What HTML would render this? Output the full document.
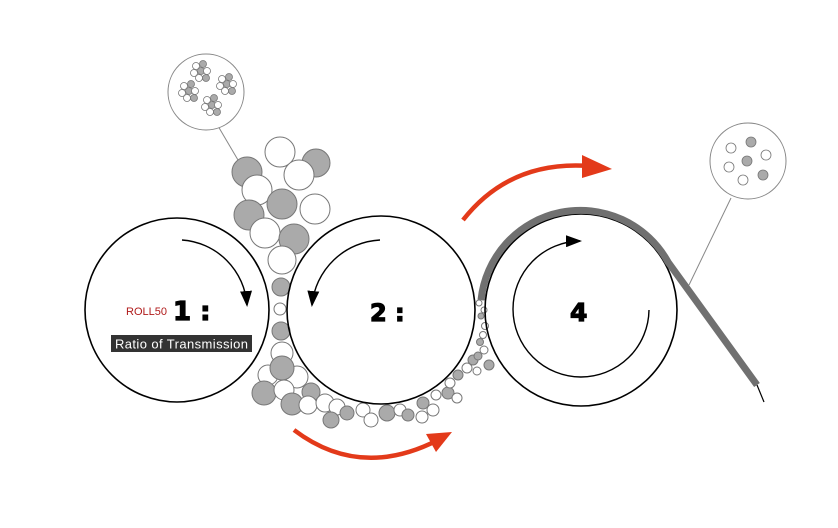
<!DOCTYPE html>
<html><head><meta charset="utf-8"><style>html,body{margin:0;padding:0;background:#fff}svg{display:block}</style></head>
<body>
<svg width="838" height="528" viewBox="0 0 838 528" xmlns="http://www.w3.org/2000/svg">
<defs>
<marker id="ah" markerWidth="16" markerHeight="12" refX="14" refY="6" orient="auto" markerUnits="userSpaceOnUse"><path d="M0,0 L16,6 L0,12 Z" fill="#000"/></marker>
</defs>
<line x1="218" y1="126" x2="238" y2="160" stroke="#888" stroke-width="1"/>
<line x1="731" y1="198" x2="689" y2="285" stroke="#888" stroke-width="1"/>
<g fill="#fff" stroke="none">
<circle cx="177" cy="310" r="92"/>
<circle cx="381" cy="310" r="94"/>
<circle cx="581" cy="310" r="96"/>
</g>
<g stroke="#777" stroke-width="1">
<circle cx="247" cy="172" r="15" fill="#aaa"/>
<circle cx="280" cy="152" r="15" fill="#fff"/>
<circle cx="316" cy="163" r="14" fill="#aaa"/>
<circle cx="299" cy="175" r="15" fill="#fff"/>
<circle cx="257" cy="190" r="15" fill="#fff"/>
<circle cx="282" cy="204" r="15" fill="#aaa"/>
<circle cx="315" cy="209" r="15" fill="#fff"/>
<circle cx="249" cy="215" r="15" fill="#aaa"/>
<circle cx="265" cy="233" r="15" fill="#fff"/>
<circle cx="294" cy="239" r="15" fill="#aaa"/>
<circle cx="282" cy="260" r="14" fill="#fff"/>
<circle cx="281" cy="287" r="9" fill="#aaa"/>
<circle cx="280" cy="309" r="6" fill="#fff"/>
<circle cx="281" cy="331" r="9" fill="#aaa"/>
<circle cx="282" cy="353" r="11" fill="#fff"/>
<circle cx="268" cy="375" r="10" fill="#fff"/>
<circle cx="297" cy="377" r="11" fill="#fff"/>
<circle cx="282" cy="368" r="12" fill="#aaa"/>
<circle cx="264" cy="393" r="12" fill="#aaa"/>
<circle cx="284" cy="390" r="10" fill="#fff"/>
<circle cx="311" cy="392" r="9" fill="#aaa"/>
<circle cx="292" cy="404" r="11" fill="#aaa"/>
<circle cx="308" cy="405" r="9" fill="#fff"/>
<circle cx="325" cy="403" r="9" fill="#fff"/>
<circle cx="337" cy="407" r="8" fill="#fff"/>
<circle cx="331" cy="420" r="8" fill="#aaa"/>
<circle cx="347" cy="413" r="7" fill="#aaa"/>
<circle cx="363" cy="410" r="7" fill="#fff"/>
<circle cx="371" cy="420" r="7" fill="#fff"/>
<circle cx="387" cy="413" r="8" fill="#aaa"/>
<circle cx="400" cy="410" r="6" fill="#fff"/>
<circle cx="408" cy="415" r="6" fill="#aaa"/>
<circle cx="422" cy="417" r="6" fill="#fff"/>
<circle cx="423" cy="403" r="6" fill="#aaa"/>
<circle cx="433" cy="410" r="6" fill="#fff"/>
<circle cx="436" cy="395" r="5" fill="#fff"/>
<circle cx="448" cy="393" r="6" fill="#aaa"/>
<circle cx="457" cy="398" r="5" fill="#fff"/>
<circle cx="450" cy="383" r="5" fill="#fff"/>
<circle cx="458" cy="375" r="5" fill="#aaa"/>
<circle cx="467" cy="368" r="5" fill="#fff"/>
<circle cx="473" cy="360" r="5" fill="#aaa"/>
<circle cx="489" cy="365" r="5" fill="#aaa"/>
<circle cx="477" cy="371" r="4" fill="#fff"/>
<circle cx="478" cy="356" r="4" fill="#aaa"/>
<circle cx="484" cy="350" r="4" fill="#fff"/>
<circle cx="480" cy="342" r="3.5" fill="#aaa"/>
<circle cx="483" cy="335" r="3.5" fill="#fff"/>
<circle cx="485" cy="326" r="3.5" fill="#fff"/>
<circle cx="481" cy="316" r="3" fill="#aaa"/>
<circle cx="484" cy="310" r="3" fill="#fff"/>
<circle cx="479" cy="303" r="3" fill="#fff"/>
<circle cx="483" cy="297" r="3" fill="#aaa"/>
</g>
<g fill="none" stroke="#000" stroke-width="1.6">
<circle cx="177" cy="310" r="92"/>
<circle cx="381" cy="310" r="94"/>
<circle cx="581" cy="310" r="96"/>
</g>
<path d="M481,300 A100,100 0 0 1 668,262 L757,385" fill="none" stroke="#707070" stroke-width="7"/>
<line x1="757" y1="385" x2="764" y2="402" stroke="#000" stroke-width="1.2"/>
<path d="M182,240 A70,70 0 0 1 247,305" fill="none" stroke="#000" stroke-width="1.4" marker-end="url(#ah)"/>
<path d="M380,240 A72,72 0 0 0 312,305" fill="none" stroke="#000" stroke-width="1.4" marker-end="url(#ah)"/>
<path d="M649,310 A68,68 0 1 1 580,241" fill="none" stroke="#000" stroke-width="1.4" marker-end="url(#ah)"/>
<path d="M463,220 Q510,160 590,166" fill="none" stroke="#e33a1a" stroke-width="4.5"/>
<path d="M582,155 L612,169 L582,178 Z" fill="#e33a1a"/>
<path d="M294,430 Q360,480 438,440" fill="none" stroke="#e33a1a" stroke-width="4.5"/>
<path d="M426,434 L452,432 L436,452 Z" fill="#e33a1a"/>
<circle cx="206" cy="92" r="38" fill="#fff" stroke="#888" stroke-width="1"/>
<g stroke="#777" stroke-width="0.8">
<g transform="translate(200,70)"><circle cx="-4" cy="-4" r="3.5" fill="#fff"/><circle cx="3" cy="-6" r="3.5" fill="#aaa"/><circle cx="-6" cy="3" r="3.5" fill="#fff"/><circle cx="1" cy="1" r="3.5" fill="#aaa"/><circle cx="7" cy="1" r="3.5" fill="#fff"/><circle cx="-1" cy="8" r="3.5" fill="#fff"/><circle cx="6" cy="8" r="3.5" fill="#aaa"/></g>
<g transform="translate(188,90)"><circle cx="-4" cy="-4" r="3.5" fill="#fff"/><circle cx="3" cy="-6" r="3.5" fill="#aaa"/><circle cx="-6" cy="3" r="3.5" fill="#fff"/><circle cx="1" cy="1" r="3.5" fill="#aaa"/><circle cx="7" cy="1" r="3.5" fill="#fff"/><circle cx="-1" cy="8" r="3.5" fill="#fff"/><circle cx="6" cy="8" r="3.5" fill="#aaa"/></g>
<g transform="translate(226,83)"><circle cx="-4" cy="-4" r="3.5" fill="#fff"/><circle cx="3" cy="-6" r="3.5" fill="#aaa"/><circle cx="-6" cy="3" r="3.5" fill="#fff"/><circle cx="1" cy="1" r="3.5" fill="#aaa"/><circle cx="7" cy="1" r="3.5" fill="#fff"/><circle cx="-1" cy="8" r="3.5" fill="#fff"/><circle cx="6" cy="8" r="3.5" fill="#aaa"/></g>
<g transform="translate(211,104)"><circle cx="-4" cy="-4" r="3.5" fill="#fff"/><circle cx="3" cy="-6" r="3.5" fill="#aaa"/><circle cx="-6" cy="3" r="3.5" fill="#fff"/><circle cx="1" cy="1" r="3.5" fill="#aaa"/><circle cx="7" cy="1" r="3.5" fill="#fff"/><circle cx="-1" cy="8" r="3.5" fill="#fff"/><circle cx="6" cy="8" r="3.5" fill="#aaa"/></g>
</g>
<circle cx="748" cy="161" r="38" fill="#fff" stroke="#888" stroke-width="1"/>
<g stroke="#777" stroke-width="0.8">
<circle cx="731" cy="148" r="5" fill="#fff"/>
<circle cx="751" cy="142" r="5" fill="#aaa"/>
<circle cx="766" cy="155" r="5" fill="#fff"/>
<circle cx="747" cy="161" r="5" fill="#aaa"/>
<circle cx="729" cy="167" r="5" fill="#fff"/>
<circle cx="763" cy="175" r="5" fill="#aaa"/>
<circle cx="743" cy="180" r="5" fill="#fff"/>
</g>
<text x="126" y="315" font-family="Liberation Sans, sans-serif" font-size="11" fill="#b01a1a">ROLL50</text>
<g font-family="DejaVu Sans, sans-serif" font-weight="bold" fill="#000" stroke="#000" stroke-width="1.2">
<text x="173" y="320" font-size="26">1 :</text>
<text x="370" y="321" font-size="24">2 :</text>
<text x="570" y="321" font-size="25">4</text>
</g>
<rect x="111" y="335" width="141" height="17" fill="#333"/>
<text x="115" y="348.5" font-family="Liberation Sans, sans-serif" font-size="13" fill="#fff" textLength="133">Ratio of Transmission</text>
</svg>
</body></html>
